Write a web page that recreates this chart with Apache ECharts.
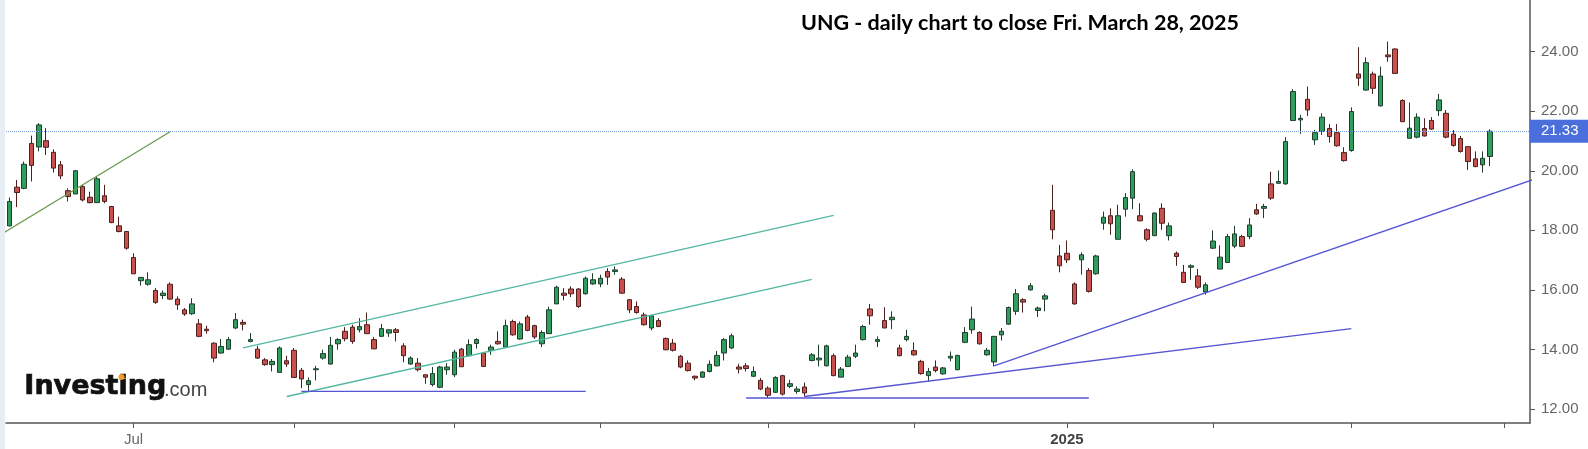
<!DOCTYPE html>
<html><head><meta charset="utf-8">
<script src="https://cdn.jsdelivr.net/npm/echarts@6/dist/echarts.min.js"></script>
<style>html,body{margin:0;padding:0;background:#fff}#c{width:1588px;height:449px}</style>
</head><body><div id="c"></div>
<script>
// ---- data ----
const dates = [
'2024-06-05','2024-06-06','2024-06-07','2024-06-10','2024-06-11','2024-06-12','2024-06-13','2024-06-14','2024-06-17','2024-06-18','2024-06-20','2024-06-21','2024-06-24','2024-06-25','2024-06-26','2024-06-27','2024-06-28',
'2024-07-01','2024-07-02','2024-07-03','2024-07-05','2024-07-08','2024-07-09','2024-07-10','2024-07-11','2024-07-12','2024-07-15','2024-07-16','2024-07-17','2024-07-18','2024-07-19','2024-07-22','2024-07-23','2024-07-24','2024-07-25','2024-07-26','2024-07-29','2024-07-30','2024-07-31',
'2024-08-01','2024-08-02','2024-08-05','2024-08-06','2024-08-07','2024-08-08','2024-08-09','2024-08-12','2024-08-13','2024-08-14','2024-08-15','2024-08-16','2024-08-19','2024-08-20','2024-08-21','2024-08-22','2024-08-23','2024-08-26','2024-08-27','2024-08-28','2024-08-29','2024-08-30',
'2024-09-03','2024-09-04','2024-09-05','2024-09-06','2024-09-09','2024-09-10','2024-09-11','2024-09-12','2024-09-13','2024-09-16','2024-09-17','2024-09-18','2024-09-19','2024-09-20','2024-09-23','2024-09-24','2024-09-25','2024-09-26','2024-09-27','2024-09-30',
'2024-10-01','2024-10-02','2024-10-03','2024-10-04','2024-10-07','2024-10-08','2024-10-09','2024-10-10','2024-10-11','2024-10-14','2024-10-15','2024-10-16','2024-10-17','2024-10-18','2024-10-21','2024-10-22','2024-10-23','2024-10-24','2024-10-25','2024-10-28','2024-10-29','2024-10-30','2024-10-31',
'2024-11-01','2024-11-04','2024-11-05','2024-11-06','2024-11-07','2024-11-08','2024-11-11','2024-11-12','2024-11-13','2024-11-14','2024-11-15','2024-11-18','2024-11-19','2024-11-20','2024-11-21','2024-11-22','2024-11-25','2024-11-26','2024-11-27','2024-11-29',
'2024-12-02','2024-12-03','2024-12-04','2024-12-05','2024-12-06','2024-12-09','2024-12-10','2024-12-11','2024-12-12','2024-12-13','2024-12-16','2024-12-17','2024-12-18','2024-12-19','2024-12-20','2024-12-23','2024-12-24','2024-12-26','2024-12-27','2024-12-30','2024-12-31',
'2025-01-02','2025-01-03','2025-01-06','2025-01-07','2025-01-08','2025-01-10','2025-01-13','2025-01-14','2025-01-15','2025-01-16','2025-01-17','2025-01-21','2025-01-22','2025-01-23','2025-01-24','2025-01-27','2025-01-28','2025-01-29','2025-01-30','2025-01-31',
'2025-02-03','2025-02-04','2025-02-05','2025-02-06','2025-02-07','2025-02-10','2025-02-11','2025-02-12','2025-02-13','2025-02-14','2025-02-18','2025-02-19','2025-02-20','2025-02-21','2025-02-24','2025-02-25','2025-02-26','2025-02-27','2025-02-28',
'2025-03-03','2025-03-04','2025-03-05','2025-03-06','2025-03-07','2025-03-10','2025-03-11','2025-03-12','2025-03-13','2025-03-14','2025-03-17','2025-03-18','2025-03-19','2025-03-20','2025-03-21','2025-03-24','2025-03-25','2025-03-26','2025-03-27','2025-03-28',
'2025-03-31','2025-04-01','2025-04-02','2025-04-03','2025-04-04'
];
const opens = [
18.15,19.45,19.41,20.92,20.80,21.01,20.62,20.20,19.33,19.22,19.47,19.11,18.93,19.16,18.80,18.15,17.96,
17.09,16.31,16.19,15.98,15.81,16.19,15.69,15.33,15.20,14.86,14.68,14.21,13.88,14.01,14.72,14.91,14.27,14.01,13.65,13.49,13.23,13.62,
13.97,13.30,12.82,13.32,13.71,13.51,14.19,14.61,14.75,14.66,14.83,14.33,14.44,14.55,14.66,14.12,13.51,13.54,13.15,12.82,12.73,13.32,
13.15,14.01,13.79,14.20,13.88,13.97,14.27,14.08,14.94,14.35,15.09,14.80,14.19,14.53,15.53,15.89,16.03,16.03,15.87,16.20,
16.20,16.62,16.62,16.36,15.67,15.44,15.16,14.72,14.97,14.37,14.21,13.77,13.54,13.10,13.07,13.26,13.45,13.88,14.05,13.41,13.45,13.10,12.96,
12.70,12.56,13.12,12.76,12.59,12.74,13.63,13.65,13.45,13.79,13.07,13.43,13.77,14.33,15.36,14.27,14.97,15.00,14.05,14.33,
13.96,13.60,13.12,13.41,13.18,13.71,13.32,14.24,14.66,14.57,13.82,13.58,14.49,14.85,15.28,15.67,16.00,15.31,15.69,18.67,17.14,
17.23,16.20,17.01,16.65,16.54,18.24,18.49,17.70,18.71,19.08,18.49,18.02,17.82,18.74,17.82,17.23,16.59,16.76,16.47,15.93,
17.40,16.70,16.92,17.47,17.79,17.79,18.69,18.74,19.56,19.58,19.56,21.69,21.71,22.40,21.04,21.32,21.42,21.28,20.61,
20.68,23.25,22.71,23.25,22.18,23.89,24.09,22.36,21.09,21.13,21.42,21.69,22.02,21.93,21.23,21.08,20.81,20.40,20.20,20.48
];
const closes = [
18.97,19.27,20.22,20.18,21.54,20.79,20.09,19.83,19.14,20.00,19.02,18.93,19.73,18.97,18.26,17.96,17.40,
16.54,16.42,16.34,15.58,15.89,15.69,15.50,15.19,15.53,14.44,14.63,13.71,14.10,14.33,15.00,14.85,14.33,13.71,13.49,13.60,14.05,13.51,
13.06,13.01,12.95,13.35,13.86,14.14,14.33,14.36,14.27,14.77,14.53,14.02,14.70,14.66,14.57,13.79,13.71,13.32,13.07,13.19,13.41,13.41,
13.91,13.42,14.16,14.33,13.43,14.08,14.19,14.80,14.49,14.86,14.64,14.42,14.57,15.33,16.09,15.82,15.87,15.44,16.39,16.34,
16.39,16.43,16.67,15.89,15.33,15.24,14.83,15.13,14.77,13.99,13.97,13.41,13.29,13.04,13.24,13.50,13.80,14.33,14.46,13.34,13.36,13.26,12.67,
12.46,13.06,12.50,12.85,12.67,12.54,13.82,13.71,14.12,13.12,13.34,13.74,13.88,14.77,15.13,14.33,14.72,15.08,13.79,14.44,
13.82,13.19,13.26,13.29,13.38,13.77,13.80,14.57,15.02,14.19,13.97,14.44,14.61,15.41,15.87,15.59,16.14,15.39,15.80,18.02,16.81,
17.01,15.53,17.18,15.95,17.14,18.44,18.22,18.49,19.10,19.97,18.32,17.70,18.58,18.24,18.15,17.12,16.25,16.81,16.09,16.17,
17.64,17.10,17.79,17.88,17.46,18.18,18.55,18.80,19.08,19.64,20.98,22.66,21.76,22.04,21.28,21.80,21.15,20.84,20.34,
21.99,23.11,23.63,22.77,23.18,23.83,23.27,21.65,21.43,21.80,21.17,21.40,22.38,21.13,20.85,20.65,20.31,20.14,20.42,21.33
];
const lows = [
18.13,18.78,19.38,19.64,20.65,20.53,19.94,19.72,18.97,19.22,18.97,18.91,18.93,18.91,18.24,17.93,17.35,
16.54,16.14,16.14,15.53,15.69,15.67,15.33,15.13,15.16,14.41,14.53,13.57,13.86,13.99,14.68,14.64,14.24,13.68,13.45,13.26,13.23,13.41,
13.04,12.70,12.59,12.96,13.66,13.49,13.99,14.27,14.19,14.57,14.53,14.01,14.42,14.42,14.27,13.57,13.49,13.26,12.85,12.76,12.70,13.15,
13.07,13.41,13.77,14.03,13.41,13.82,14.16,14.05,14.46,14.33,14.61,14.35,14.08,14.53,15.53,15.65,15.76,15.39,15.84,16.17,
16.09,16.17,16.51,15.87,15.22,15.20,14.80,14.64,14.75,13.97,13.93,13.37,13.26,12.96,13.05,13.23,13.43,13.63,14.01,13.19,13.26,13.07,12.63,
12.37,12.54,12.45,12.70,12.51,12.42,13.60,13.43,13.43,13.10,13.07,13.41,13.71,14.30,14.83,14.08,14.72,14.68,13.77,14.27,
13.79,13.15,12.93,13.23,13.15,13.60,13.30,14.21,14.53,14.16,13.79,13.43,14.30,14.83,15.16,15.24,15.98,15.09,15.28,17.70,16.59,
16.90,15.50,16.51,15.91,16.51,18.02,17.85,17.70,18.46,18.71,18.30,17.63,17.82,18.02,17.66,16.81,16.23,16.34,16.03,15.84,
17.37,16.70,16.92,17.40,17.44,17.70,18.52,18.41,19.02,19.58,19.53,21.69,21.24,21.84,20.87,21.20,20.95,20.81,20.31,
20.64,22.85,22.69,22.58,22.16,23.66,23.27,21.65,21.09,21.09,21.15,21.37,21.84,21.09,20.81,20.61,20.03,20.12,19.94,20.16
];
const highs = [
19.10,19.69,20.31,21.18,21.60,21.43,20.72,20.33,19.41,20.03,19.53,19.30,19.81,19.53,18.82,18.46,17.98,
17.23,16.43,16.59,16.06,15.98,16.25,15.78,15.39,15.72,15.02,14.80,14.24,14.35,14.42,15.22,15.00,14.55,14.12,13.71,13.68,14.10,13.79,
14.05,13.38,13.06,13.45,13.99,14.42,14.38,14.75,14.83,15.05,15.24,14.42,14.86,14.68,14.72,14.21,13.77,13.71,13.15,13.41,13.45,13.54,
13.99,14.05,14.34,14.38,13.90,14.16,14.61,15.00,15.00,14.94,15.16,14.83,14.64,15.44,16.14,16.06,16.12,16.06,16.45,16.56,
16.51,16.73,16.79,16.43,15.69,15.61,15.24,15.16,15.05,14.40,14.35,13.82,13.63,13.12,13.27,13.63,13.95,14.38,14.53,13.52,13.54,13.43,13.04,
12.76,13.10,13.15,12.98,12.76,12.89,13.88,14.16,14.16,13.86,13.41,13.82,14.16,14.83,15.53,14.44,15.42,15.28,14.16,14.66,
14.24,13.65,13.38,13.63,13.41,13.93,13.82,14.75,15.44,14.61,14.05,14.44,14.72,15.44,16.03,15.72,16.23,15.44,15.87,19.53,17.51,
17.66,16.25,17.26,16.73,17.18,18.63,18.74,18.86,19.25,20.05,18.91,18.07,18.60,18.91,18.26,17.29,16.84,16.86,16.70,16.25,
18.00,17.50,17.88,18.15,17.85,18.41,18.89,18.89,19.97,20.01,21.13,22.74,21.88,22.83,21.37,21.93,21.57,21.57,20.79,
22.13,24.15,23.81,23.33,23.50,24.34,24.11,22.40,22.29,21.93,21.76,21.80,22.58,22.04,21.37,21.17,20.81,20.65,20.65,21.39
];
const yTicks = [12, 14, 16, 18, 20, 22, 24];
const lastPrice = 21.33;
const chartTitle = 'UNG - daily chart to close Fri. March 28, 2025';
// drawn trend lines: [category index, price]
const greenLine    = [[-0.64, 17.89], [22.0, 21.31]];
const channelUpper = [[32.04, 14.05], [112.98, 18.50]];
const channelLower = [[37.99, 12.42], [109.76, 16.35]];
const supportAug   = [[40.05, 12.59], [78.9, 12.59]];
const supportNov   = [[101.08, 12.37], [147.99, 12.37]];
const riseSlow     = [[108.84, 12.42], [184.09, 14.70]];
const riseFast     = [[135.03, 13.45], [209.0, 19.71]];

// ---- chart ----
const candles = opens.map((o, i) => [o, closes[i], lows[i], highs[i]]);
const monthStart = new Set();
dates.forEach((d, i) => { if (i > 0 && d.slice(5, 7) !== dates[i - 1].slice(5, 7)) monthStart.add(i); });

function trend(data, color) {
  return {
    type: 'line', data: data, symbol: 'none', silent: true, clip: true, z: 5,
    lineStyle: { color: color, width: 1.3 }, animation: false
  };
}

const chart = echarts.init(document.getElementById('c'), null, { renderer: 'canvas' });
chart.setOption({
  animation: false,
  backgroundColor: '#ffffff',
  title: {
    text: chartTitle, left: 1015, top: 7, textAlign: 'center',
    textStyle: { fontFamily: 'Lato', fontWeight: 'bold', fontSize: 21.5, color: '#000' }
  },
  grid: { left: 6, right: 58, top: 0, bottom: 26, containLabel: false, outerBoundsMode: 'none' },
  xAxis: {
    type: 'category', data: dates, boundaryGap: true,
    axisLine: { show: true, lineStyle: { color: '#555', width: 1.5 } },
    axisTick: { show: true, alignWithLabel: true, length: 5, lineStyle: { color: '#555' },
      interval: (i) => monthStart.has(i) },
    axisLabel: {
      interval: (i) => monthStart.has(i), margin: 9, fontSize: 15, color: '#666', fontFamily: 'Liberation Sans',
      formatter: (v) => { const m = v.slice(5, 7); if (m === '07') return 'Jul'; if (m === '01') return '{b|' + v.slice(0, 4) + '}'; return ''; },
      rich: { b: { fontWeight: 'bold', fontSize: 15, color: '#444', fontFamily: 'Liberation Sans' } }
    },
    splitLine: { show: false }
  },
  yAxis: {
    type: 'value', position: 'right', min: 11.53, max: 25.735, scale: true,
    axisLine: { show: true, lineStyle: { color: '#555', width: 1.5 } },
    axisTick: { show: true, length: 5, customValues: yTicks, lineStyle: { color: '#555' } },
    axisLabel: { customValues: yTicks, margin: 11, fontSize: 15, color: '#666', fontFamily: 'Liberation Sans',
      formatter: (v) => v.toFixed(2) },
    splitLine: { show: false }
  },
  graphic: [
    { type: 'rect', left: 0, top: 0, shape: { width: 5, height: 449 }, style: { fill: '#e7edf5' }, silent: true },
    { type: 'text', left: 24, top: 373, style: { text: 'Investing', font: 'bold 27px "DejaVu Sans"', fill: '#111', stroke: '#111', lineWidth: 0.7 }, silent: true },
    { type: 'text', left: 164, top: 380, style: { text: '.com', font: '20px "Liberation Sans"', fill: '#444' }, silent: true },
    { type: 'circle', shape: { cx: 121.5, cy: 377, r: 3 }, style: { fill: '#f39c1f' }, silent: true }
  ],
  series: [
    {
      type: 'candlestick', data: candles, barWidth: 5, z: 3,
      itemStyle: { color: '#2f9d5e', color0: '#c9504d', borderColor: '#1f3d2b', borderColor0: '#4d1f1d', borderWidth: 1 },
      markLine: {
        silent: true, symbol: ['none', 'none'], animation: false,
        lineStyle: { color: '#7d9fd6', type: 'dotted', width: 1 },
        label: { show: true, position: 'end', distance: 0, formatter: lastPrice.toFixed(2),
          backgroundColor: '#4a6fdc', color: '#fff', fontSize: 15, fontFamily: 'Liberation Sans', padding: [4, 10, 4, 11] },
        data: [{ yAxis: lastPrice }]
      }
    },
    trend(greenLine, '#6c9a4f'),
    trend(channelUpper, '#52b8a2'),
    trend(channelLower, '#52b8a2'),
    trend(supportAug, '#5555d5'),
    trend(supportNov, '#5555d5'),
    trend(riseSlow, '#5555d5'),
    trend(riseFast, '#5555d5')
  ]
});
</script></body></html>
